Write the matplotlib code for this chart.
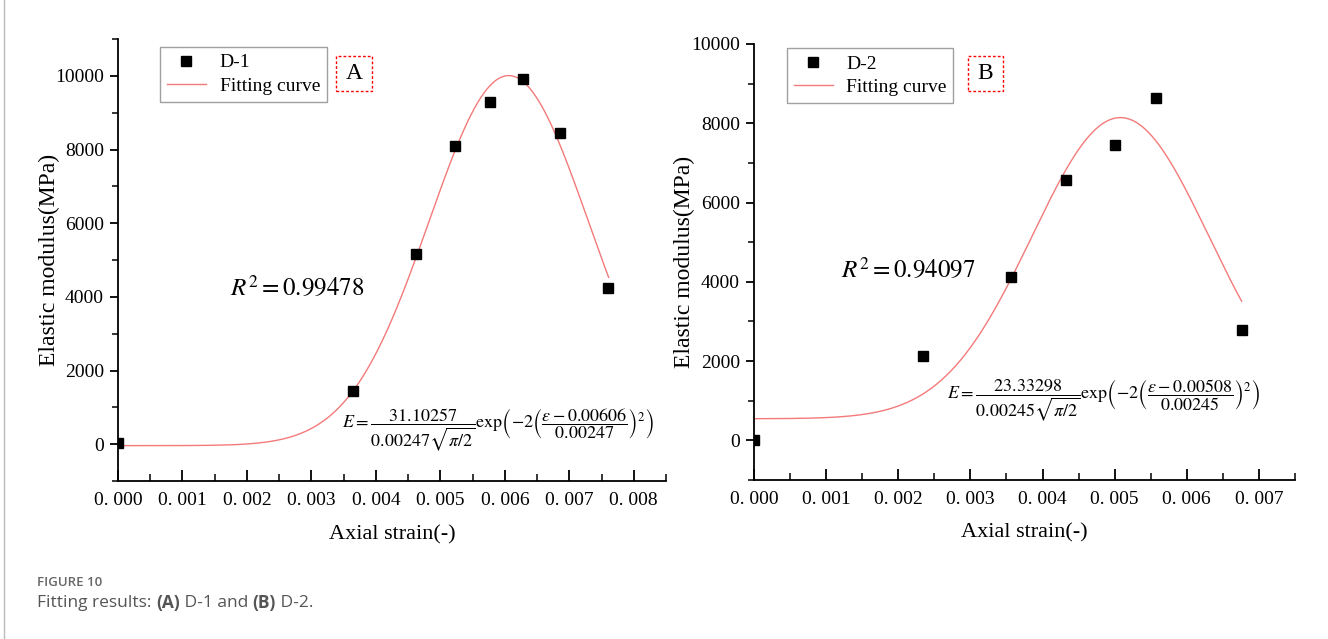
import numpy as np
import matplotlib
matplotlib.use("Agg")
import matplotlib.pyplot as plt
from matplotlib.patches import Rectangle
from matplotlib.lines import Line2D
from matplotlib.ticker import MultipleLocator

plt.rcParams['font.family'] = ['Liberation Serif', 'DejaVu Serif']
plt.rcParams['mathtext.fontset'] = 'stix'

# measured points, D-1
strain_d1 = [0.0, 0.00365, 0.00462, 0.00523, 0.00577, 0.00628, 0.00686, 0.00760]
modulus_d1 = [20, 1430, 5170, 8100, 9290, 9910, 8460, 4250]
# measured points, D-2
strain_d2 = [0.0, 0.00234, 0.00356, 0.00432, 0.00500, 0.00557, 0.00676]
modulus_d2 = [0, 2140, 4110, 6580, 7450, 8650, 2790]

# gauss fit parameters as printed on the chart (area, centre, width) + baseline
fit_d1 = dict(A=31.10257, xc=0.00606, w=0.00247, y0=-40, xmax=0.00761)
fit_d2 = dict(A=23.33298, xc=0.00508, w=0.00245, y0=545, xmax=0.00676)
r2_d1 = "0.99478"
r2_d2 = "0.94097"

def gauss(p):
    x = np.linspace(0, p['xmax'], 300)
    y = p['y0'] + p['A'] / (p['w'] * np.sqrt(np.pi / 2)) * np.exp(-2 * ((x - p['xc']) / p['w']) ** 2)
    return x, y

W, H = 1328, 639
fig = plt.figure(figsize=(W / 100, H / 100), dpi=100)

def px(l, t, r, b):
    return [l / W, 1 - b / H, (r - l) / W, (b - t) / H]

def panel(rect, xs, ys, fit, name, letter, r2, xmax, ymax, xticks_max,
          leg_xy, box, r2_xy, eq_xy, ylab_x, eq_text):
    ax = fig.add_axes(rect)
    x, y = gauss(fit)
    ax.plot(xs, ys, 's', color='black', markersize=7.5, label=name, zorder=3)
    ax.plot(x, y, '-', color='#f47a7a', lw=1.0, label='Fitting curve', zorder=2)
    ax.set_xlim(0, xmax)
    ax.set_ylim(-1000, ymax)
    for s in ['top', 'right']:
        ax.spines[s].set_visible(False)
    for s in ['left', 'bottom']:
        ax.spines[s].set_linewidth(1.3)
    ax.xaxis.set_minor_locator(MultipleLocator(0.0005))
    ax.yaxis.set_minor_locator(MultipleLocator(1000))
    xt = np.arange(0, xticks_max + 1e-9, 0.001)
    ax.set_xticks(xt)
    ax.set_xticklabels(['0. %03d' % round(v * 1000) for v in xt])
    yt = np.arange(0, ymax + 1, 2000)
    ax.set_yticks(yt)
    ax.set_yticklabels(['%d' % v for v in yt])
    ax.tick_params(axis='x', which='major', direction='in', length=8, width=1.3, labelsize=14, pad=8)
    ax.tick_params(axis='x', which='minor', direction='in', length=5, width=1.1)
    ax.tick_params(axis='y', which='major', direction='out', length=6, width=1.3, labelsize=14, pad=4)
    ax.tick_params(axis='y', which='minor', direction='out', length=4, width=1.1)
    ax.set_xlabel('Axial strain(-)', fontsize=16)
    ax.set_ylabel('Elastic modulus(MPa)', fontsize=17)
    ax.xaxis.set_label_coords(0.5, -0.099)
    ax.yaxis.set_label_coords(ylab_x, 0.5)
    leg = ax.legend(loc='upper left', bbox_to_anchor=leg_xy, borderaxespad=0,
                    fancybox=False, edgecolor='#888888', fontsize=14,
                    handlelength=2.0, borderpad=0.35, labelspacing=0.3,
                    handletextpad=0.7)
    leg.get_frame().set_linewidth(1.0)
    # dashed red box with the panel letter
    ax.add_patch(Rectangle((box[0], box[1]), box[2], box[3], transform=ax.transAxes,
                           fill=False, edgecolor='red', linestyle=(0, (2, 1.5)), lw=1.0))
    ax.text(box[0] + box[2] / 2, box[1] + box[3] / 2, letter, transform=ax.transAxes,
            ha='center', va='center', fontsize=17)
    ax.text(r2_xy[0], r2_xy[1], r'$R^2=%s$' % r2, transform=ax.transAxes,
            ha='left', va='center', fontsize=18)
    ax.text(eq_xy[0], eq_xy[1], eq_text, transform=ax.transAxes,
            ha='center', va='center', fontsize=13)
    return ax

eq1 = (r'$E=\dfrac{31.10257}{0.00247\sqrt{\pi/2}}\mathrm{exp}'
       r'\left(-2\left(\dfrac{\varepsilon-0.00606}{0.00247}\right)^2\right)$')
eq2 = (r'$E=\dfrac{23.33298}{0.00245\sqrt{\pi/2}}\mathrm{exp}'
       r'\left(-2\left(\dfrac{\varepsilon-0.00508}{0.00245}\right)^2\right)$')

panel(px(118, 39, 666, 481), strain_d1, modulus_d1, fit_d1, 'D-1', 'A', r2_d1,
      0.0085, 11000, 0.008, (0.077, 0.982), (0.398, 0.882, 0.0657, 0.079),
      (0.204, 0.439), (0.693, 0.115), -0.106, eq1)
panel(px(754, 44, 1295, 480), strain_d2, modulus_d2, fit_d2, 'D-2', 'B', r2_d2,
      0.0075, 10000, 0.007, (0.061, 0.99), (0.3956, 0.892, 0.0647, 0.0803),
      (0.161, 0.482), (0.647, 0.181), -0.109, eq2)

# thin frame line at the left edge
fig.add_artist(Line2D([4 / W, 4 / W], [0, 1], color='#bbbbbb', lw=1.0))

# caption
fig.text(37 / W, 1 - 583 / H, 'FIGURE 10', fontsize=9.5, color='#666666',
         family=['Open Sans', 'DejaVu Sans'], weight='semibold', va='center')
parts = [('Fitting results: ', 'normal'), ('(A)', 'bold'), (' D-1 and ', 'normal'),
         ('(B)', 'bold'), (' D-2.', 'normal')]
fig.canvas.draw()
r = fig.canvas.get_renderer()
xpos = 37
for txt, wt in parts:
    t = fig.text(xpos / W, 1 - 603 / H, txt, fontsize=12.5, color='#555555',
                 family=['Open Sans', 'DejaVu Sans'], weight=wt, va='center')
    bb = t.get_window_extent(renderer=r)
    xpos += bb.width

fig.savefig('out.png', dpi=100)
